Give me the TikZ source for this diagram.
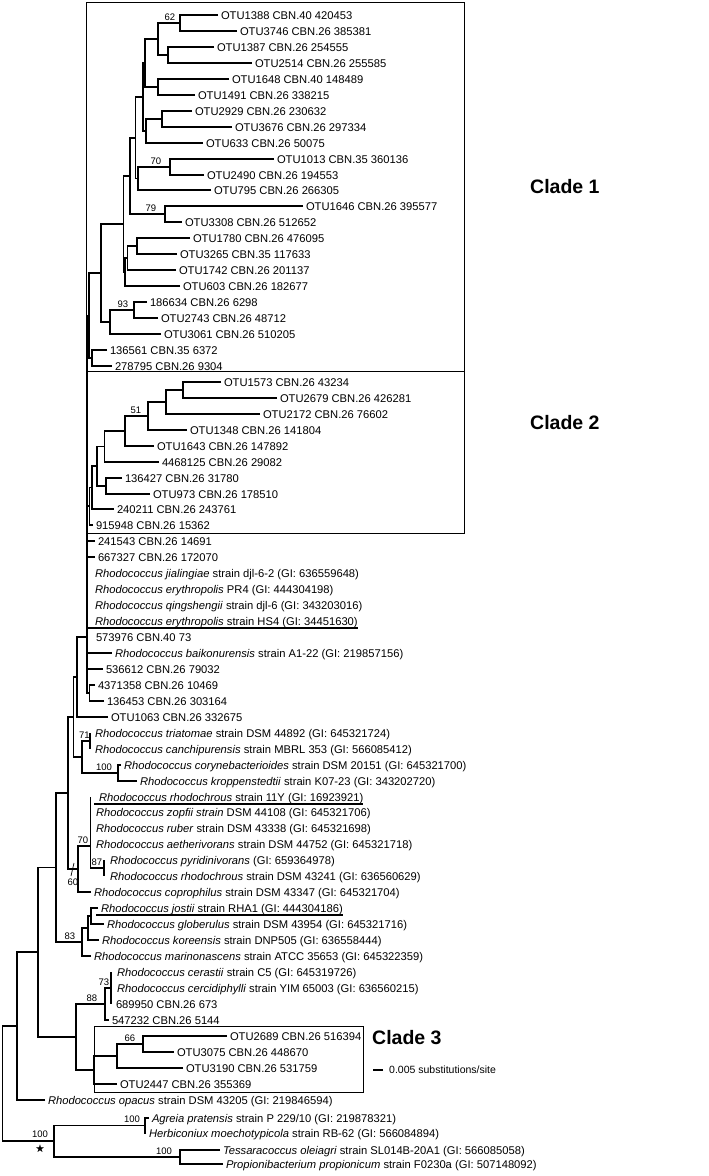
\documentclass[tikz,border=0pt]{standalone}
\usepackage{fontspec}
\setmainfont{Liberation Sans}
\usepackage{amssymb}
\newcommand{\rhodo}[1]{\textit{Rhodococcus #1}}
\tikzset{
  leaf/.style={anchor=west, inner sep=0pt, outer sep=0pt, text height=8pt, text depth=0pt, font=\fontsize{11.2}{13}\selectfont},
  boot/.style={inner sep=0pt, font=\fontsize{9.5}{11}\selectfont},
  branch/.style={line width=1.2pt},
  cladebox/.style={line width=0.9pt},
  uline/.style={line width=2pt},
  cladelabel/.style={anchor=west, inner sep=0pt, font=\bfseries\fontsize{19.5}{22}\selectfont}
}
\begin{document}
\begin{tikzpicture}[x=1pt,y=-1pt]
\useasboundingbox (0,0) rectangle (709,1176);
% clade boxes
\draw[cladebox] (86,2) rectangle (464,533);
\draw[cladebox] (86,371) -- (464,371);
\draw[cladebox] (94,1026) rectangle (363,1092);
\node[cladelabel] (clade1) at (530,187) {Clade 1};
\node[cladelabel] (clade2) at (530,423) {Clade 2};
\node[cladelabel] (clade3) at (372,1038) {Clade 3};

% leaves
\node[leaf] (l1) at (221,15) {OTU1388 CBN.40 420453};
\node[leaf] (l2) at (240,31) {OTU3746 CBN.26 385381};
\node[leaf] (l3) at (217,47) {OTU1387 CBN.26 254555};
\node[leaf] (l4) at (255,63) {OTU2514 CBN.26 255585};
\node[leaf] (l5) at (232,79) {OTU1648 CBN.40 148489};
\node[leaf] (l6) at (198,95) {OTU1491 CBN.26 338215};
\node[leaf] (l7) at (195,111) {OTU2929 CBN.26 230632};
\node[leaf] (l8) at (235,127) {OTU3676 CBN.26 297334};
\node[leaf] (l9) at (206,143) {OTU633 CBN.26 50075};
\node[leaf] (l10) at (277,159) {OTU1013 CBN.35 360136};
\node[leaf] (l11) at (207,175) {OTU2490 CBN.26 194553};
\node[leaf] (l12) at (214,190) {OTU795 CBN.26 266305};
\node[leaf] (l13) at (306,206) {OTU1646 CBN.26 395577};
\node[leaf] (l14) at (185,222) {OTU3308 CBN.26 512652};
\node[leaf] (l15) at (193,238) {OTU1780 CBN.26 476095};
\node[leaf] (l16) at (180,254) {OTU3265 CBN.35 117633};
\node[leaf] (l17) at (179,270) {OTU1742 CBN.26 201137};
\node[leaf] (l18) at (183,286) {OTU603 CBN.26 182677};
\node[leaf] (l19) at (150,302) {186634 CBN.26 6298};
\node[leaf] (l20) at (161,318) {OTU2743 CBN.26 48712};
\node[leaf] (l21) at (164,334) {OTU3061 CBN.26 510205};
\node[leaf] (l22) at (110,350) {136561 CBN.35 6372};
\node[leaf] (l23) at (115,366) {278795 CBN.26 9304};
\node[leaf] (l24) at (224,382) {OTU1573 CBN.26 43234};
\node[leaf] (l25) at (280,398) {OTU2679 CBN.26 426281};
\node[leaf] (l26) at (263,414) {OTU2172 CBN.26 76602};
\node[leaf] (l27) at (190,430) {OTU1348 CBN.26 141804};
\node[leaf] (l28) at (157,446) {OTU1643 CBN.26 147892};
\node[leaf] (l29) at (162,462) {4468125 CBN.26 29082};
\node[leaf] (l30) at (125,478) {136427 CBN.26 31780};
\node[leaf] (l31) at (153,494) {OTU973 CBN.26 178510};
\node[leaf] (l32) at (117,509) {240211 CBN.26 243761};
\node[leaf] (l33) at (96,525) {915948 CBN.26 15362};
\node[leaf] (l34) at (98,541) {241543 CBN.26 14691};
\node[leaf] (l35) at (98,557) {667327 CBN.26 172070};
\node[leaf] (l36) at (95,573) {\rhodo{jialingiae} strain djl-6-2 (GI: 636559648)};
\node[leaf] (l37) at (95,589) {\rhodo{erythropolis} PR4 (GI: 444304198)};
\node[leaf] (l38) at (95,605) {\rhodo{qingshengii} strain djl-6 (GI: 343203016)};
\node[leaf] (l39) at (95,621) {\rhodo{erythropolis} strain HS4 (GI: 34451630)};
\node[leaf] (l40) at (96,637) {573976 CBN.40 73};
\node[leaf] (l41) at (115,653) {\rhodo{baikonurensis} strain A1-22 (GI: 219857156)};
\node[leaf] (l42) at (106,669) {536612 CBN.26 79032};
\node[leaf] (l43) at (98,685) {4371358 CBN.26 10469};
\node[leaf] (l44) at (107,701) {136453 CBN.26 303164};
\node[leaf] (l45) at (111,717) {OTU1063 CBN.26 332675};
\node[leaf] (l46) at (95,733) {\rhodo{triatomae} strain DSM 44892 (GI: 645321724)};
\node[leaf] (l47) at (95,749) {\rhodo{canchipurensis} strain MBRL 353 (GI: 566085412)};
\node[leaf] (l48) at (124,765) {\rhodo{corynebacterioides} strain DSM 20151 (GI: 645321700)};
\node[leaf] (l49) at (140,781) {\rhodo{kroppenstedtii} strain K07-23 (GI: 343202720)};
\node[leaf] (l50) at (99,797) {\rhodo{rhodochrous} strain 11Y (GI: 16923921)};
\node[leaf] (l51) at (96,812) {\rhodo{zopfii strain} DSM 44108 (GI: 645321706)};
\node[leaf] (l52) at (96,828) {\rhodo{ruber} strain DSM 43338 (GI: 645321698)};
\node[leaf] (l53) at (96,844) {\rhodo{aetherivorans} strain DSM 44752 (GI: 645321718)};
\node[leaf] (l54) at (110,860) {\rhodo{pyridinivorans} (GI: 659364978)};
\node[leaf] (l55) at (110,876) {\rhodo{rhodochrous} strain DSM 43241 (GI: 636560629)};
\node[leaf] (l56) at (94,892) {\rhodo{coprophilus} strain DSM 43347 (GI: 645321704)};
\node[leaf] (l57) at (101,908) {\rhodo{jostii} strain RHA1 (GI: 444304186)};
\node[leaf] (l58) at (107,924) {\rhodo{globerulus} strain DSM 43954 (GI: 645321716)};
\node[leaf] (l59) at (102,940) {\rhodo{koreensis} strain DNP505 (GI: 636558444)};
\node[leaf] (l60) at (94,956) {\rhodo{marinonascens} strain ATCC 35653 (GI: 645322359)};
\node[leaf] (l61) at (117,972) {\rhodo{cerastii} strain C5 (GI: 645319726)};
\node[leaf] (l62) at (117,988) {\rhodo{cercidiphylli} strain YIM 65003 (GI: 636560215)};
\node[leaf] (l63) at (116,1004) {689950 CBN.26 673};
\node[leaf] (l64) at (112,1020) {547232 CBN.26 5144};
\node[leaf] (l65) at (230,1036) {OTU2689 CBN.26 516394};
\node[leaf] (l66) at (177,1052) {OTU3075 CBN.26 448670};
\node[leaf] (l67) at (186,1068) {OTU3190 CBN.26 531759};
\node[leaf] (l68) at (120,1084) {OTU2447 CBN.26 355369};
\node[leaf] (l69) at (48,1100) {\rhodo{opacus} strain DSM 43205 (GI: 219846594)};
\node[leaf] (l70) at (152,1118) {\textit{Agreia pratensis} strain P 229/10 (GI: 219878321)};
\node[leaf] (l71) at (149,1133) {\textit{Herbiconiux moechotypicola} strain RB-62 (GI: 566084894)};
\node[leaf] (l72) at (223,1150) {\textit{Tessaracoccus oleiagri} strain SL014B-20A1 (GI: 566085058)};
\node[leaf] (l73) at (226,1164) {\textit{Propionibacterium propionicum} strain F0230a (GI: 507148092)};

% underlined reference strains
\draw[uline] ([xshift=-9pt,yshift=-2.5pt]l39.south west) -- ([yshift=-2.5pt]l39.south east);
\draw[uline] ([xshift=-5pt,yshift=-2.5pt]l50.south west) -- ([yshift=-2.5pt]l50.south east);
\draw[uline] ([xshift=-5pt,yshift=-2.5pt]l57.south west) -- ([yshift=-2.5pt]l57.south east);

% internal nodes, clade 1
\coordinate (c62) at (180,23);
\coordinate (cB) at (168,55);
\coordinate (cP1) at (158,39);
\coordinate (cC) at (158,87);
\coordinate (cE) at (145,63);
\coordinate (cD) at (162,119);
\coordinate (cF) at (146,131);
\coordinate (cG) at (143,97);
\coordinate (c70) at (170,167);
\coordinate (cH) at (138,178.5);
\coordinate (cI) at (135.5,138);
\coordinate (c79) at (165,214);
\coordinate (cJ) at (130,176);
\coordinate (cK) at (137,246);
\coordinate (cM) at (127.5,258);
\coordinate (cL) at (125,272);
\coordinate (cQ) at (123.5,224);
\coordinate (c93) at (134,310);
\coordinate (cR) at (110,322);
\coordinate (cS) at (101,273);
\coordinate (cU) at (92,358);
\coordinate (cT) at (89,315.5);
% clade 2
\coordinate (d1) at (183,390);
\coordinate (d2) at (166,402);
\coordinate (d51) at (148,416);
\coordinate (d3) at (125,431);
\coordinate (d4) at (104.5,446.5);
\coordinate (d5) at (106,486);
\coordinate (d6) at (97,466);
\coordinate (d7) at (92,487.5);
\coordinate (d8) at (89.5,506);
% backbone and the rest
\coordinate (v) at (87,637);
\coordinate (g43) at (89.5,693);
\coordinate (W) at (77,677);
\coordinate (c71) at (90,741);
\coordinate (c100) at (118,773);
\coordinate (cY) at (82,757);
\coordinate (cX) at (73.5,717);
\coordinate (Rg) at (90.5,846);
\coordinate (c87) at (104,868);
\coordinate (c70b) at (78,869);
\coordinate (cZ) at (68,793);
\coordinate (cj1) at (91,916);
\coordinate (cj2) at (88,928);
\coordinate (c83) at (82,942);
\coordinate (cAA) at (56,867.5);
\coordinate (c73) at (111,988);
\coordinate (c88) at (105,1004);
\coordinate (c66) at (143,1044);
\coordinate (c3a) at (117,1056);
\coordinate (c3) at (94,1070);
\coordinate (cCC) at (76,1037);
\coordinate (cBB) at (38,952);
\coordinate (cDD) at (17,1026);
\coordinate (cAg) at (145,1125.5);
\coordinate (cTP) at (180,1157);
\coordinate (cOG) at (54,1141);
\coordinate (root) at (2.5,1083.5);

% branches, clade 1
\draw[branch] ([xshift=-3pt]l1.west) -| (c62);
\draw[branch] ([xshift=-3pt]l2.west) -| (c62);
\draw[branch] ([xshift=-3pt]l3.west) -| (cB);
\draw[branch] ([xshift=-3pt]l4.west) -| (cB);
\draw[branch] (c62) -| (cP1);
\draw[branch] (cB) -| (cP1);
\draw[branch] ([xshift=-3pt]l5.west) -| (cC);
\draw[branch] ([xshift=-3pt]l6.west) -| (cC);
\draw[branch] (cP1) -| (cE);
\draw[branch] (cC) -| (cE);
\draw[branch] ([xshift=-3pt]l7.west) -| (cD);
\draw[branch] ([xshift=-3pt]l8.west) -| (cD);
\draw[branch] (cD) -| (cF);
\draw[branch] ([xshift=-3pt]l9.west) -| (cF);
\draw[branch] (cE) -| (cG);
\draw[branch] (cF) -| (cG);
\draw[branch] ([xshift=-3pt]l10.west) -| (c70);
\draw[branch] ([xshift=-3pt]l11.west) -| (c70);
\draw[branch] (c70) -| (cH);
\draw[branch] ([xshift=-3pt]l12.west) -| (cH);
\draw[branch] (cG) -| (cI);
\draw[branch] (cH) -| (cI);
\draw[branch] ([xshift=-3pt]l13.west) -| (c79);
\draw[branch] ([xshift=-3pt]l14.west) -| (c79);
\draw[branch] (cI) -| (cJ);
\draw[branch] (c79) -| (cJ);
\draw[branch] ([xshift=-3pt]l15.west) -| (cK);
\draw[branch] ([xshift=-3pt]l16.west) -| (cK);
\draw[branch] (cK) -| (cM);
\draw[branch] ([xshift=-3pt]l17.west) -| (cM);
\draw[branch] (cM) -| (cL);
\draw[branch] ([xshift=-3pt]l18.west) -| (cL);
\draw[branch] (cJ) -| (cQ);
\draw[branch] (cL) -| (cQ);
\draw[branch] ([xshift=-3pt]l19.west) -| (c93);
\draw[branch] ([xshift=-3pt]l20.west) -| (c93);
\draw[branch] (c93) -| (cR);
\draw[branch] ([xshift=-3pt]l21.west) -| (cR);
\draw[branch] (cQ) -| (cS);
\draw[branch] (cR) -| (cS);
\draw[branch] ([xshift=-3pt]l22.west) -| (cU);
\draw[branch] ([xshift=-3pt]l23.west) -| (cU);
\draw[branch] (cS) -| (cT);
\draw[branch] (cU) -| (cT);
\draw[branch] (cT) -| (v);
% clade 2
\draw[branch] ([xshift=-3pt]l24.west) -| (d1);
\draw[branch] ([xshift=-3pt]l25.west) -| (d1);
\draw[branch] (d1) -| (d2);
\draw[branch] ([xshift=-3pt]l26.west) -| (d2);
\draw[branch] (d2) -| (d51);
\draw[branch] ([xshift=-3pt]l27.west) -| (d51);
\draw[branch] (d51) -| (d3);
\draw[branch] ([xshift=-3pt]l28.west) -| (d3);
\draw[branch] (d3) -| (d4);
\draw[branch] ([xshift=-3pt]l29.west) -| (d4);
\draw[branch] ([xshift=-3pt]l30.west) -| (d5);
\draw[branch] ([xshift=-3pt]l31.west) -| (d5);
\draw[branch] (d4) -| (d6);
\draw[branch] (d5) -| (d6);
\draw[branch] (d6) -| (d7);
\draw[branch] ([xshift=-3pt]l32.west) -| (d7);
\draw[branch] (d7) -| (d8);
\draw[branch] ([xshift=-3pt]l33.west) -| (d8);
\draw[branch] (d8) -| (v);
% backbone polytomy
\draw[branch] ([xshift=-3pt]l34.west) -| (v);
\draw[branch] ([xshift=-3pt]l35.west) -| (v);
\draw[branch] ([xshift=-3pt]l41.west) -| (v);
\draw[branch] ([xshift=-3pt]l42.west) -| (v);
\draw[branch] ([xshift=-3pt]l43.west) -| (g43);
\draw[branch] ([xshift=-3pt]l44.west) -| (g43);
\draw[branch] (g43) -| (v);
\draw[branch] (v) -| (W);
\draw[branch] ([xshift=-3pt]l45.west) -| (W);
\draw[branch] (W) -| (cX);
\draw[branch] (l46.west -| c71) -- (l47.west -| c71);
\draw[branch] (c71) -| (cY);
\draw[branch] ([xshift=-3pt]l48.west) -| (c100);
\draw[branch] ([xshift=-3pt]l49.west) -| (c100);
\draw[branch] (c100) -| (cY);
\draw[branch] (cY) -| (cX);
\draw[branch] (cX) -| (cZ);
\draw[branch] (l50.west -| Rg) -- (Rg);
\draw[branch] (l54.west -| c87) -- (l55.west -| c87);
\draw[branch] (c87) -| (Rg);
\draw[branch] (Rg) -| (c70b);
\draw[branch] ([xshift=-3pt]l56.west) -| (c70b);
\draw[branch] (c70b) -| (cZ);
\draw[branch] (cZ) -| (cAA);
\draw[branch] ([xshift=-3pt]l57.west) -| (cj1);
\draw[branch] ([xshift=-3pt]l58.west) -| (cj1);
\draw[branch] (cj1) -| (cj2);
\draw[branch] ([xshift=-3pt]l59.west) -| (cj2);
\draw[branch] (cj2) -| (c83);
\draw[branch] ([xshift=-3pt]l60.west) -| (c83);
\draw[branch] (c83) -| (cAA);
\draw[branch] (cAA) -| (cBB);
\draw[branch] (l61.west -| c73) -- (l63.west -| c73);
\draw[branch] (c73) -| (c88);
\draw[branch] ([xshift=-3pt]l64.west) -| (c88);
\draw[branch] (c88) -| (cCC);
% clade 3
\draw[branch] ([xshift=-3pt]l65.west) -| (c66);
\draw[branch] ([xshift=-3pt]l66.west) -| (c66);
\draw[branch] (c66) -| (c3a);
\draw[branch] ([xshift=-3pt]l67.west) -| (c3a);
\draw[branch] (c3a) -| (c3);
\draw[branch] ([xshift=-3pt]l68.west) -| (c3);
\draw[branch] (c3) -| (cCC);
\draw[branch] (cCC) -| (cBB);
\draw[branch] (cBB) -| (cDD);
\draw[branch] ([xshift=-3pt]l69.west) -| (cDD);
\draw[branch] (cDD) -| (root);
% outgroup
\draw[branch] ([xshift=-3pt]l70.west) -| (cAg);
\draw[branch] ([xshift=-3pt]l71.west) -| (cAg);
\draw[branch] ([xshift=-3pt]l72.west) -| (cTP);
\draw[branch] ([xshift=-3pt]l73.west) -| (cTP);
\draw[branch] (cAg) -| (cOG);
\draw[branch] (cTP) -| (cOG);
\draw[branch] (cOG) -| (root);

% bootstrap values
\node[boot] (b62) at (170,17) {62};
\node[boot] (b70) at (156,161) {70};
\node[boot] (b79) at (151,208) {79};
\node[boot] (b93) at (123,304) {93};
\node[boot] (b51) at (136,410) {51};
\node[boot] (b71) at (84.5,735) {71};
\node[boot] (b100c) at (104,767) {100};
\node[boot] (b70b) at (83,840) {70};
\node[boot] (b87) at (97,862) {87};
\node[boot] (b60) at (73,882) {60};
\draw[line width=0.7pt] (71,876) -- (74,863);
\node[boot] (b83) at (70,936) {83};
\node[boot] (b73) at (104,982) {73};
\node[boot] (b88) at (92,998) {88};
\node[boot] (b66) at (130,1038) {66};
\node[boot] (b100a) at (132,1119) {100};
\node[boot] (b100t) at (164,1151) {100};
\node[boot] (b100r) at (40,1134.5) {100};
\node[boot] (bstar) at (40,1149) {$\bigstar$};

% scale bar
\node[anchor=west, inner sep=0pt, font=\fontsize{10.5}{12}\selectfont] (scale) at (389,1070) {0.005 substitutions/site};
\draw[branch] ([xshift=-6pt]scale.west) -- ++(-10,0);
\end{tikzpicture}
\end{document}
